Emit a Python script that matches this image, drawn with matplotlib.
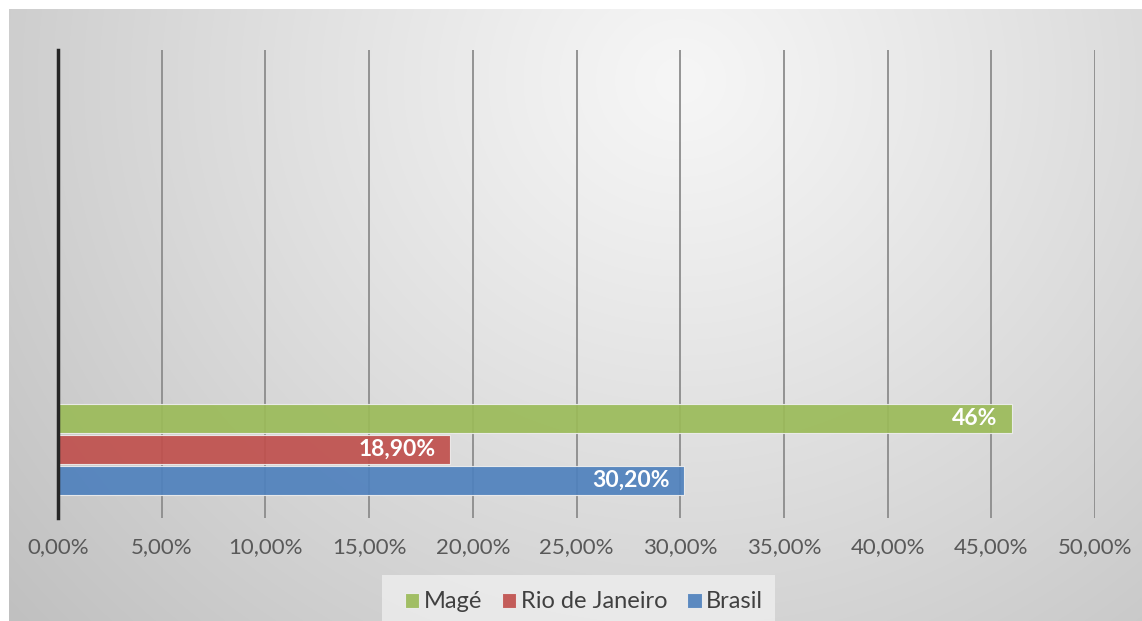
import numpy as np
import matplotlib
matplotlib.use("Agg")
import matplotlib.pyplot as plt
from matplotlib.patches import Rectangle

series = ["Magé", "Rio de Janeiro", "Brasil"]
values = [46.0, 18.9, 30.2]
labels = ["46%", "18,90%", "30,20%"]
colors = ["#9bbb59", "#c0504d", "#4f81bd"]
xticks = [0, 5, 10, 15, 20, 25, 30, 35, 40, 45, 50]
xticklabels = ["0,00%", "5,00%", "10,00%", "15,00%", "20,00%", "25,00%",
               "30,00%", "35,00%", "40,00%", "45,00%", "50,00%"]

W, H = 1142, 621
fig = plt.figure(figsize=(W / 100, H / 100), dpi=100)
plt.rcParams['font.family'] = ['Lato', 'DejaVu Sans']

# background gradient
bg = fig.add_axes([0, 0, 1, 1], zorder=-10)
yy, xx = np.mgrid[0:H, 0:W]
d = np.sqrt(((xx - 680) / 800.0) ** 2 + ((yy - 80) / 750.0) ** 2)
val = 0.965 - 0.19 * np.clip(d, 0, 1.2) ** 1.1
img = np.dstack([val, val, val])
img[:9, :, :] = 1.0
img[:, :9, :] = 1.0
bg.imshow(img, extent=[0, W, H, 0], aspect='auto', interpolation='bilinear')
bg.set_xlim(0, W)
bg.set_ylim(H, 0)
bg.axis('off')
# legend box background
bg.add_patch(Rectangle((382, 575), 393, 46, facecolor='#f2f2f2', edgecolor='none', alpha=0.7))

ax = fig.add_axes([58 / W, 1 - 518 / H, (1095 - 58) / W, (518 - 50) / H])
ax.set_facecolor('none')
ypos = [1, 0, -1]
bh = 0.95
bars = []
for y, v, c, lab, s in zip(ypos, values, colors, labels, series):
    b = ax.barh(y, v, height=bh, color=c, edgecolor='#eeeeee', linewidth=0.8, alpha=0.92,
                label=s, zorder=3)
    bars.append(b)
    ax.text(v - 0.7, y, lab, ha='right', va='center', color='white',
            fontsize=16.5, fontweight='bold', zorder=4)

ax.set_xlim(0, 50)
ax.set_ylim(-2.21, 12.89)
ax.set_xticks(xticks)
ax.set_xticklabels(xticklabels, fontsize=16, color='#595959')
ax.tick_params(axis='x', length=0, pad=14)
ax.set_yticks([])
ax.grid(axis='x', color='#8c8c8c', linewidth=1.3, zorder=1)
for sp in ['top', 'right', 'bottom']:
    ax.spines[sp].set_visible(False)
ax.spines['left'].set_color('#262626')
ax.spines['left'].set_linewidth(2.5)
ax.spines['left'].set_zorder(5)

leg = fig.legend(handles=bars, labels=series, loc='center', bbox_to_anchor=(584 / W, 1 - 602 / H),
                 ncol=3, frameon=False, fontsize=17, handlelength=0.6, handleheight=0.6,
                 handletextpad=0.2, columnspacing=0.85, labelcolor='#404040')

fig.savefig("out.png", dpi=100)
